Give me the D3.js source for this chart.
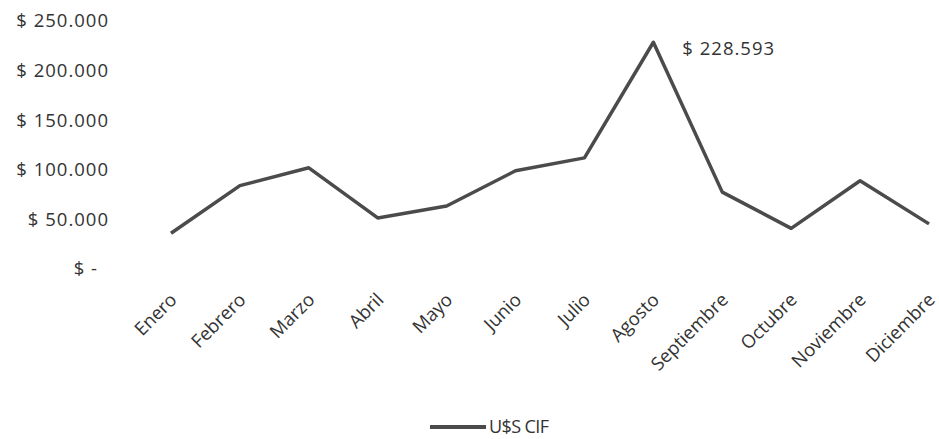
<!DOCTYPE html>
<html>
<head>
<meta charset="utf-8">
<script src="https://cdn.jsdelivr.net/npm/d3@7"></script>
<style>
  body { margin: 0; background: #fff; }
  text { font-family: "Open Sans", sans-serif; fill: #333; }
</style>
</head>
<body>
<div id="vis"></div>
<script>
var months = ["Enero", "Febrero", "Marzo", "Abril", "Mayo", "Junio", "Julio",
    "Agosto", "Septiembre", "Octubre", "Noviembre", "Diciembre"];
var cif = [36000, 84000, 102000, 51500, 63500, 99000, 112000,
    228593, 77500, 41000, 89000, 45500];
var yTicks = [0, 50000, 100000, 150000, 200000, 250000];
var seriesName = "U$S CIF";

var width = 939, height = 439;

var svg = d3.select("#vis")
    .append("svg")
    .attr("width", width)
    .attr("height", height);

var x = d3.scalePoint().domain(months).range([171, 929]);
var y = d3.scaleLinear().domain([0, 250000]).range([269, 21]);

var fmt = function (v) {
    if (v === 0) return "$ -";
    return "$ " + d3.format(",")(v).replace(/,/g, ".");
};

// y labels, no axis line
svg.append("g")
    .selectAll("text")
    .data(yTicks)
    .enter()
    .append("text")
    .attr("x", d => d === 0 ? 98 : 109)
    .attr("y", d => y(d))
    .attr("dy", "0.35em")
    .attr("text-anchor", "end")
    .style("font-size", "18.5px")
    .style("letter-spacing", "1px")
    .text(fmt);

// x labels rotated
svg.append("g")
    .selectAll("text")
    .data(months)
    .enter()
    .append("text")
    .attr("transform", d => "translate(" + (x(d) + 7) + ",301) rotate(-45)")
    .attr("text-anchor", "end")
    .style("font-size", "18.5px")
    .text(d => d);

var line = d3.line()
    .x((d, i) => x(months[i]))
    .y(d => y(d));

svg.append("path")
    .datum(cif)
    .attr("d", line)
    .attr("fill", "none")
    .attr("stroke", "#4b4b4b")
    .attr("stroke-width", 3.5)
    .attr("stroke-linejoin", "round");

// data label on the peak
var peak = d3.maxIndex(cif);
svg.append("text")
    .attr("x", x(months[peak]) + 29)
    .attr("y", y(cif[peak]) + 6)
    .attr("dy", "0.35em")
    .style("font-size", "18.5px")
    .style("letter-spacing", "1px")
    .text(fmt(cif[peak]));

// legend
var lg = svg.append("g").attr("transform", "translate(430,427)");
lg.append("line")
    .attr("x1", 0).attr("x2", 56)
    .attr("stroke", "#4b4b4b")
    .attr("stroke-width", 4);
lg.append("text")
    .attr("x", 59)
    .attr("dy", "0.35em")
    .style("font-size", "18px")
    .style("letter-spacing", "-0.6px")
    .text(seriesName);
</script>
</body>
</html>
